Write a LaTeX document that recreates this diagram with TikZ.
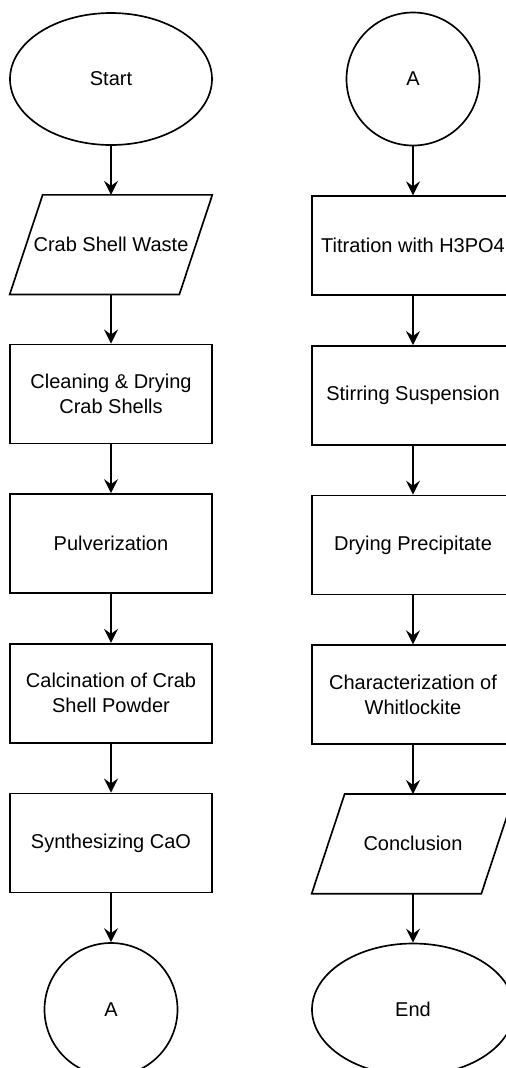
\documentclass[tikz,border=0pt]{standalone}
\usepackage{fontspec}
\setmainfont{Liberation Sans}
\usetikzlibrary{arrows.meta, positioning, shapes.geometric, calc}

\begin{document}
\begin{tikzpicture}[
    font=\fontsize{12}{15}\selectfont,
    node distance=29.4pt,
    terminal/.style={draw, line width=1pt, ellipse, inner sep=0pt,
        minimum width=121.2pt, minimum height=79.2pt},
    connector/.style={draw, line width=1pt, circle, inner sep=0pt, minimum size=79.8pt},
    process/.style={draw, line width=1pt, rectangle, align=center, inner sep=2pt,
        minimum width=121.2pt, minimum height=59.4pt},
    data/.style={rectangle, align=center, inner sep=0pt,
        minimum width=121.2pt, minimum height=59.4pt,
        append after command={
            \pgfextra{\draw[line width=1pt, line join=miter]
                ($(\tikzlastnode.north west)+(19.8pt,0)$) -- (\tikzlastnode.north east)
                -- ($(\tikzlastnode.south east)-(19.8pt,0)$) -- (\tikzlastnode.south west)
                -- cycle;}}},
    link/.style={-{Stealth[length=8.4pt, width=8.4pt, inset=3pt]}, line width=1pt},
]
\useasboundingbox (0,0) rectangle (303pt,-640.8pt);

% --- left column ---
\node[terminal] (start) at (66.6pt,-47.4pt) {Start};
\node[data, below=of start] (waste) {Crab Shell Waste};
\node[process, below=of waste] (clean) {Cleaning \& Drying\\ Crab Shells};
\node[process, below=of clean] (pulv) {Pulverization};
\node[process, below=of pulv] (calc) {Calcination of Crab\\ Shell Powder};
\node[process, below=of calc] (cao) {Synthesizing CaO};
\node[connector, below=of cao] (outA) {A};

\draw[link] (start) -- (waste);
\draw[link] (waste) -- (clean);
\draw[link] (clean) -- (pulv);
\draw[link] (pulv) -- (calc);
\draw[link] (calc) -- (cao);
\draw[link] (cao) -- (outA);

% --- right column ---
\node[connector] (inA) at (247.8pt,-47.4pt) {A};
\node[process, below=of inA] (titr) {Titration with H3PO4};
\node[process, below=of titr] (stir) {Stirring Suspension};
\node[process, below=of stir] (dry) {Drying Precipitate};
\node[process, below=of dry] (char) {Characterization of\\ Whitlockite};
\node[data, below=of char] (concl) {Conclusion};
\node[terminal, below=of concl] (finish) {End};

\draw[link] (inA) -- (titr);
\draw[link] (titr) -- (stir);
\draw[link] (stir) -- (dry);
\draw[link] (dry) -- (char);
\draw[link] (char) -- (concl);
\draw[link] (concl) -- (finish);

\end{tikzpicture}
\end{document}
